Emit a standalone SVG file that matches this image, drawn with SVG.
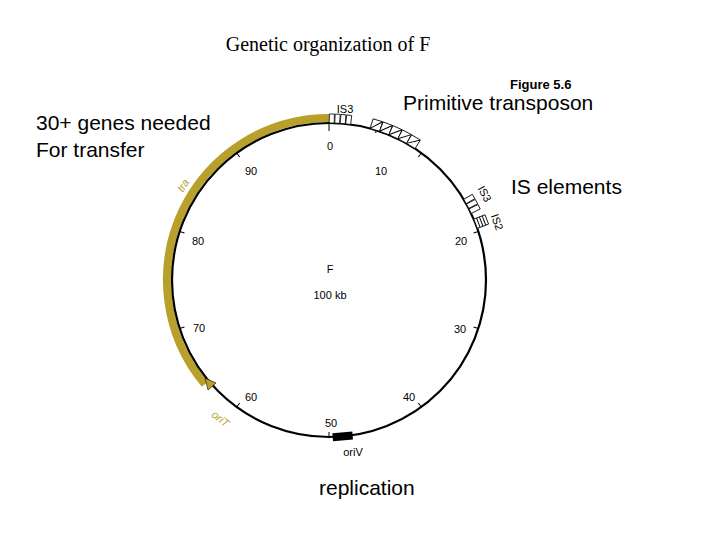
<svg xmlns="http://www.w3.org/2000/svg" width="720" height="540" viewBox="0 0 720 540">
<style>
.t{font-family:"Liberation Sans",Arial,sans-serif;fill:#000}
.s{font-family:"Liberation Sans",Arial,sans-serif;font-size:11px;fill:#000;text-anchor:middle}
.g{font-family:"Liberation Sans",Arial,sans-serif;font-size:11px;fill:#b8a02a;font-style:italic}
.b{fill:#fff;stroke:#000;stroke-width:0.8}
.tk{stroke:#000;stroke-width:1}
</style>
<rect width="720" height="540" fill="#fff"/>
<text x="328" y="51" font-family="Liberation Serif,serif" font-size="20" text-anchor="middle">Genetic organization of F</text>
<text x="510" y="89" class="t" font-size="13" font-weight="bold">Figure 5.6</text>
<g id="labels">
<text x="36" y="130" class="t" font-size="21">30+ genes needed</text>
<text x="36" y="157" class="t" font-size="21">For transfer</text>
<text x="403" y="110" class="t" font-size="21">Primitive transposon</text>
<text x="511" y="194" class="t" font-size="21">IS elements</text>
<text x="319" y="495" class="t" font-size="21">replication</text>
</g>
<g id="plasmid">
<path d="M329,118 A162,162 0 0 0 204.9,384.2" fill="none" stroke="#b8a02a" stroke-width="8"/>
<circle cx="329" cy="280" r="157" fill="none" stroke="#000" stroke-width="2.2"/>
<polygon points="205,378 216,383 208,390" fill="#b8a02a" stroke="#000" stroke-width="0.6"/>
<g class="tk">
<line x1="329" y1="123" x2="329" y2="131" transform="rotate(0 329 280)"/>
<line x1="329" y1="123" x2="329" y2="128" transform="rotate(36 329 280)"/>
<line x1="329" y1="123" x2="329" y2="128" transform="rotate(72 329 280)"/>
<line x1="329" y1="123" x2="329" y2="128" transform="rotate(108 329 280)"/>
<line x1="329" y1="123" x2="329" y2="128" transform="rotate(144 329 280)"/>
<line x1="329" y1="123" x2="329" y2="128" transform="rotate(180 329 280)"/>
<line x1="329" y1="123" x2="329" y2="128" transform="rotate(216 329 280)"/>
<line x1="329" y1="123" x2="329" y2="128" transform="rotate(252 329 280)"/>
<line x1="329" y1="123" x2="329" y2="128" transform="rotate(288 329 280)"/>
<line x1="329" y1="123" x2="329" y2="128" transform="rotate(324 329 280)"/>
</g>
<text class="s" x="330" y="150">0</text>
<text class="s" x="381" y="175">10</text>
<text class="s" x="461" y="245">20</text>
<text class="s" x="460" y="333">30</text>
<text class="s" x="409" y="401">40</text>
<text class="s" x="331" y="427">50</text>
<text class="s" x="251" y="401">60</text>
<text class="s" x="199" y="332">70</text>
<text class="s" x="198" y="245">80</text>
<text class="s" x="251" y="175">90</text>
<text class="s" x="330" y="273">F</text>
<text class="s" x="330" y="299">100 kb</text>
<text class="s" x="345" y="113">IS3</text>
<text class="s" x="379" y="131">γδ</text>
<text class="s" x="329" y="106" transform="rotate(61 329 280)">IS3</text>
<text class="s" x="329" y="106" transform="rotate(71 329 280)">IS2</text>
<text class="g" x="329" y="110" text-anchor="middle" transform="rotate(-57 329 280)">tra</text>
<text class="g" x="329" y="108" text-anchor="middle" transform="rotate(-142 329 280) rotate(180 329 104)">oriT</text>
<text class="s" x="353" y="456">oriV</text>
<g>
<rect class="b" x="326.5" y="114" width="5" height="9" transform="rotate(1 329 280)"/>
<rect class="b" x="326.5" y="114" width="5" height="9" transform="rotate(3 329 280)"/>
<rect class="b" x="326.5" y="114" width="5" height="9" transform="rotate(5 329 280)"/>
<rect class="b" x="326.5" y="114" width="5" height="9" transform="rotate(7 329 280)"/>
</g>
<g>
<rect class="b" x="324" y="113" width="10" height="10" transform="rotate(17 329 280)"/>
<rect class="b" x="324" y="113" width="10" height="10" transform="rotate(20.6 329 280)"/>
<rect class="b" x="324" y="113" width="10" height="10" transform="rotate(24.2 329 280)"/>
<rect class="b" x="324" y="113" width="10" height="10" transform="rotate(27.8 329 280)"/>
<rect class="b" x="324" y="113" width="10" height="10" transform="rotate(31.4 329 280)"/>
<line class="tk" x1="324" y1="123" x2="334" y2="113" transform="rotate(17 329 280)"/>
<line class="tk" x1="324" y1="123" x2="334" y2="113" transform="rotate(20.6 329 280)"/>
<line class="tk" x1="324" y1="123" x2="334" y2="113" transform="rotate(24.2 329 280)"/>
<line class="tk" x1="324" y1="123" x2="334" y2="113" transform="rotate(27.8 329 280)"/>
<line class="tk" x1="324" y1="123" x2="334" y2="113" transform="rotate(31.4 329 280)"/>
</g>
<g>
<rect class="b" x="326.5" y="113" width="5" height="10" transform="rotate(60 329 280)"/>
<rect class="b" x="326.5" y="113" width="5" height="10" transform="rotate(62 329 280)"/>
<rect class="b" x="326.5" y="113" width="5" height="10" transform="rotate(64 329 280)"/>
</g>
<g>
<rect class="b" x="324" y="111" width="10" height="12" transform="rotate(69 329 280)"/>
<line class="tk" x1="324" y1="114" x2="334" y2="114" transform="rotate(69 329 280)"/>
<line class="tk" x1="324" y1="117" x2="334" y2="117" transform="rotate(69 329 280)"/>
<line class="tk" x1="324" y1="120" x2="334" y2="120" transform="rotate(69 329 280)"/>
</g>
<rect x="319" y="119" width="20" height="8" fill="#000" transform="rotate(175 329 280)"/>
</g>
</svg>
